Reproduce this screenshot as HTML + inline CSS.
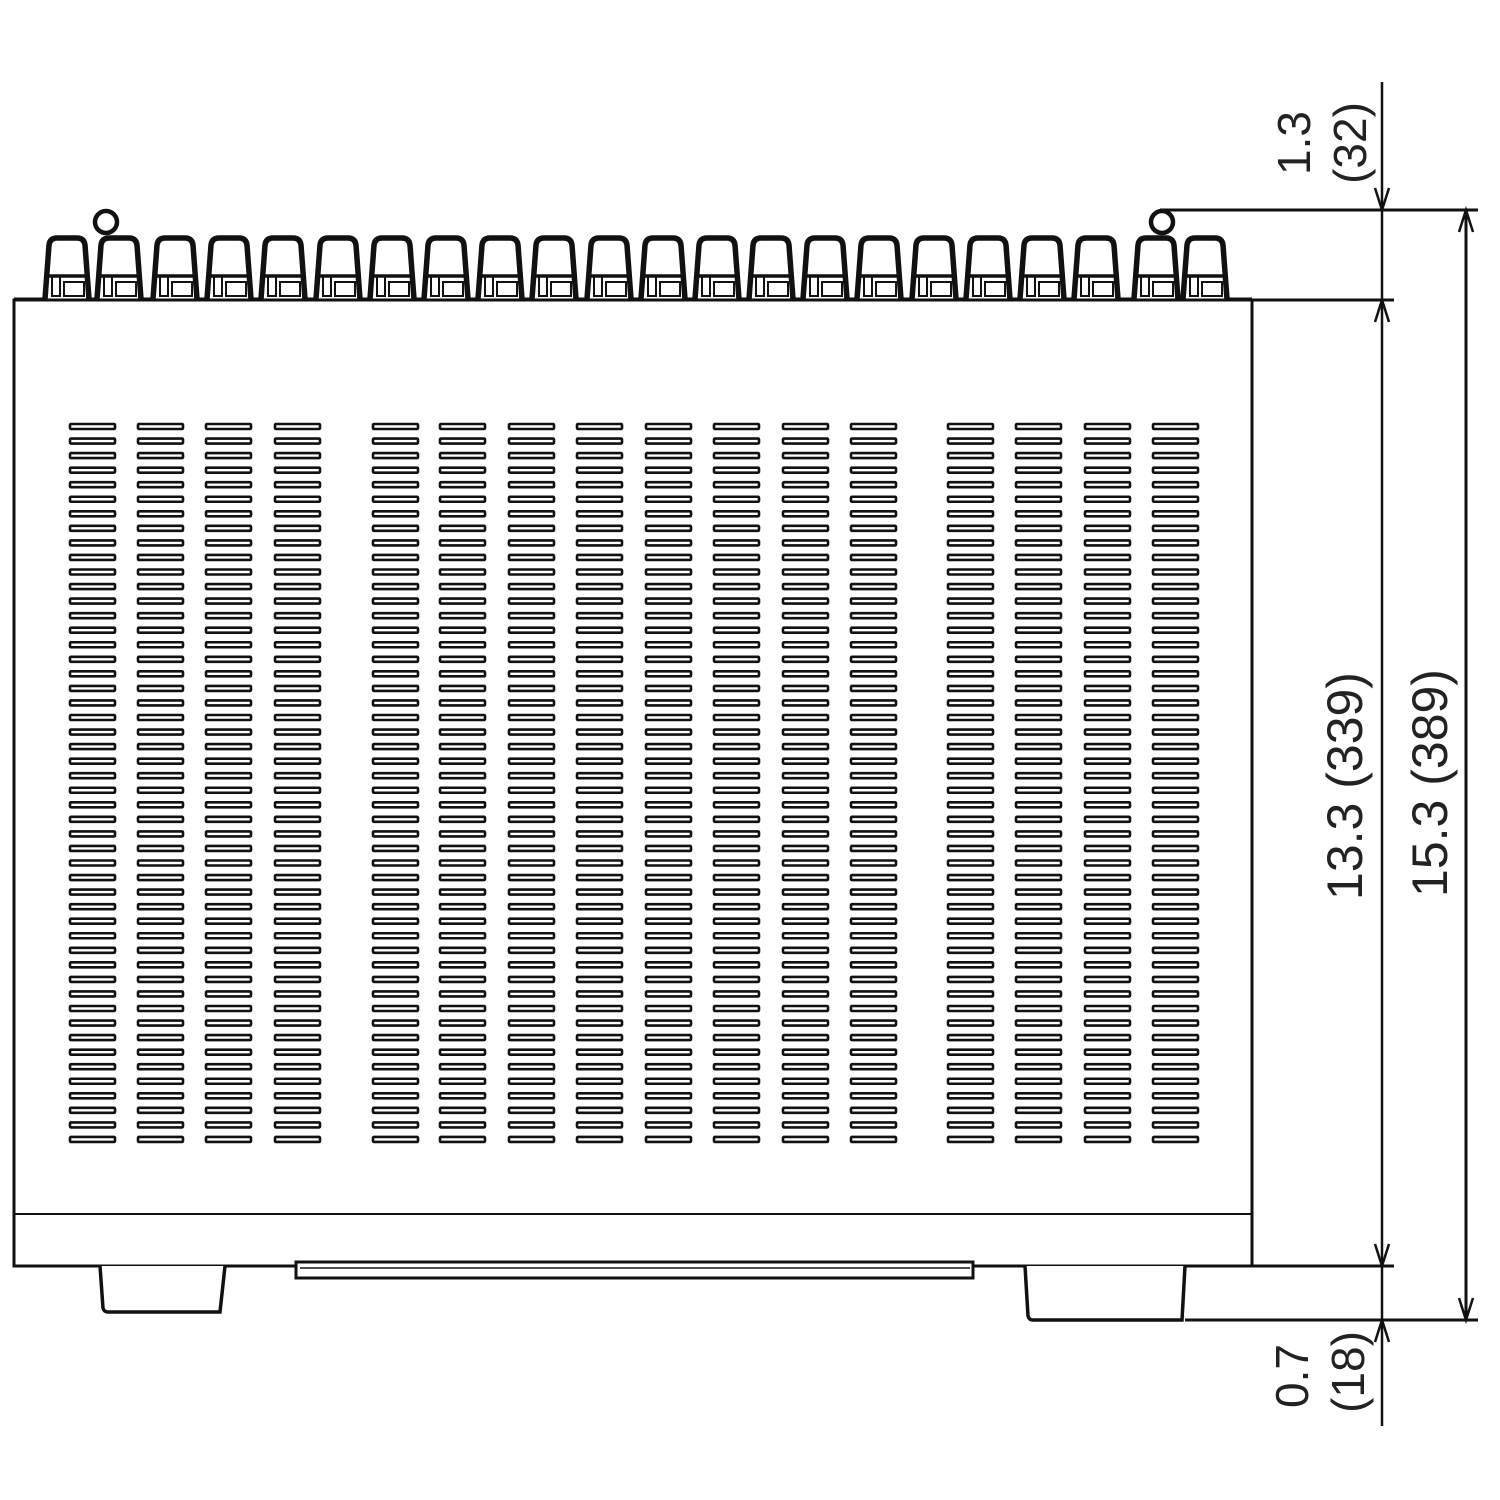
<!DOCTYPE html>
<html><head><meta charset="utf-8"><style>
html,body{margin:0;padding:0;background:#fff;}
svg{display:block}
text{font-family:"Liberation Sans",sans-serif;fill:#222;}
</style></head><body>
<svg width="1500" height="1500" viewBox="0 0 1500 1500" xmlns="http://www.w3.org/2000/svg">
<defs>
<g id="col" fill="none" stroke="#111" stroke-width="2.6">
<rect x="1" y="0" width="45" height="5" rx="1"/><rect x="1" y="14.55" width="45" height="5" rx="1"/><rect x="1" y="29.1" width="45" height="5" rx="1"/><rect x="1" y="43.65" width="45" height="5" rx="1"/><rect x="1" y="58.2" width="45" height="5" rx="1"/>
<rect x="1" y="72.75" width="45" height="5" rx="1"/><rect x="1" y="87.3" width="45" height="5" rx="1"/><rect x="1" y="101.85" width="45" height="5" rx="1"/><rect x="1" y="116.4" width="45" height="5" rx="1"/><rect x="1" y="130.95" width="45" height="5" rx="1"/>
<rect x="1" y="145.5" width="45" height="5" rx="1"/><rect x="1" y="160.05" width="45" height="5" rx="1"/><rect x="1" y="174.6" width="45" height="5" rx="1"/><rect x="1" y="189.15" width="45" height="5" rx="1"/><rect x="1" y="203.7" width="45" height="5" rx="1"/>
<rect x="1" y="218.25" width="45" height="5" rx="1"/><rect x="1" y="232.8" width="45" height="5" rx="1"/><rect x="1" y="247.35" width="45" height="5" rx="1"/><rect x="1" y="261.9" width="45" height="5" rx="1"/><rect x="1" y="276.45" width="45" height="5" rx="1"/>
<rect x="1" y="291" width="45" height="5" rx="1"/><rect x="1" y="305.55" width="45" height="5" rx="1"/><rect x="1" y="320.1" width="45" height="5" rx="1"/><rect x="1" y="334.65" width="45" height="5" rx="1"/><rect x="1" y="349.2" width="45" height="5" rx="1"/>
<rect x="1" y="363.75" width="45" height="5" rx="1"/><rect x="1" y="378.3" width="45" height="5" rx="1"/><rect x="1" y="392.85" width="45" height="5" rx="1"/><rect x="1" y="407.4" width="45" height="5" rx="1"/><rect x="1" y="421.95" width="45" height="5" rx="1"/>
<rect x="1" y="436.5" width="45" height="5" rx="1"/><rect x="1" y="451.05" width="45" height="5" rx="1"/><rect x="1" y="465.6" width="45" height="5" rx="1"/><rect x="1" y="480.15" width="45" height="5" rx="1"/><rect x="1" y="494.7" width="45" height="5" rx="1"/>
<rect x="1" y="509.25" width="45" height="5" rx="1"/><rect x="1" y="523.8" width="45" height="5" rx="1"/><rect x="1" y="538.35" width="45" height="5" rx="1"/><rect x="1" y="552.9" width="45" height="5" rx="1"/><rect x="1" y="567.45" width="45" height="5" rx="1"/>
<rect x="1" y="582" width="45" height="5" rx="1"/><rect x="1" y="596.55" width="45" height="5" rx="1"/><rect x="1" y="611.1" width="45" height="5" rx="1"/><rect x="1" y="625.65" width="45" height="5" rx="1"/><rect x="1" y="640.2" width="45" height="5" rx="1"/>
<rect x="1" y="654.75" width="45" height="5" rx="1"/><rect x="1" y="669.3" width="45" height="5" rx="1"/><rect x="1" y="683.85" width="45" height="5" rx="1"/><rect x="1" y="698.4" width="45" height="5" rx="1"/><rect x="1" y="712.95" width="45" height="5" rx="1"/>
</g>
<g id="term">
<path d="M1 63 L5 9 Q6 2 13 2 L33 2 Q40 2 41 9 L45 63" fill="#fff" stroke="#111" stroke-width="5.5"/>
<line x1="4" y1="40" x2="42" y2="40" stroke="#111" stroke-width="3.5"/>
<rect x="8" y="40" width="8" height="20" fill="none" stroke="#111" stroke-width="2"/>
<rect x="20" y="46" width="20" height="14" fill="none" stroke="#111" stroke-width="2"/>
</g>
</defs>
<line x1="14" y1="300" x2="1252" y2="300" stroke="#111" stroke-width="5"/>
<use href="#term" x="44" y="236"/><use href="#term" x="96" y="236"/><use href="#term" x="152" y="236"/>
<use href="#term" x="206" y="236"/><use href="#term" x="260" y="236"/><use href="#term" x="315" y="236"/>
<use href="#term" x="369" y="236"/><use href="#term" x="423" y="236"/><use href="#term" x="477" y="236"/>
<use href="#term" x="531" y="236"/><use href="#term" x="586" y="236"/><use href="#term" x="640" y="236"/>
<use href="#term" x="694" y="236"/><use href="#term" x="748" y="236"/><use href="#term" x="802" y="236"/>
<use href="#term" x="856" y="236"/><use href="#term" x="911" y="236"/><use href="#term" x="965" y="236"/>
<use href="#term" x="1019" y="236"/><use href="#term" x="1073" y="236"/><use href="#term" x="1133" y="236"/>
<use href="#term" x="1182" y="236"/>
<circle cx="106" cy="222" r="11" fill="#fff" stroke="#111" stroke-width="4.5"/>
<circle cx="1162" cy="222" r="11" fill="#fff" stroke="#111" stroke-width="4.5"/>
<rect x="14" y="300" width="1238" height="966" fill="#fff" stroke="#111" stroke-width="3"/>
<line x1="14" y1="1214" x2="1252" y2="1214" stroke="#111" stroke-width="2"/>
<use href="#col" x="69" y="424"/><use href="#col" x="137" y="424"/><use href="#col" x="205" y="424"/><use href="#col" x="274" y="424"/>
<use href="#col" x="372" y="424"/><use href="#col" x="439" y="424"/><use href="#col" x="508" y="424"/><use href="#col" x="576" y="424"/>
<use href="#col" x="645" y="424"/><use href="#col" x="713" y="424"/><use href="#col" x="782" y="424"/><use href="#col" x="850" y="424"/>
<use href="#col" x="947" y="424"/><use href="#col" x="1015" y="424"/><use href="#col" x="1084" y="424"/><use href="#col" x="1152" y="424"/>
<path d="M296 1262 L973 1262 L973 1278 L296 1278 Z" fill="#fff" stroke="#111" stroke-width="3"/>
<line x1="300" y1="1268" x2="970" y2="1268" stroke="#111" stroke-width="1.5"/>
<path d="M100 1266 L103 1308 Q104 1312 108 1312 L220 1312 L225 1266" fill="#fff" stroke="#111" stroke-width="3.5"/>
<path d="M1025 1266 L1028 1316 Q1029 1320 1033 1320 L1182 1320 L1185 1266" fill="#fff" stroke="#111" stroke-width="3.5"/>
<line x1="1185" y1="1320" x2="1478" y2="1320" stroke="#111" stroke-width="3"/>
<line x1="1252" y1="1266" x2="1394" y2="1266" stroke="#111" stroke-width="3"/>
<line x1="1160" y1="210" x2="1478" y2="210" stroke="#111" stroke-width="3"/>
<line x1="1252" y1="300" x2="1394" y2="300" stroke="#111" stroke-width="3"/>
<line x1="1382" y1="82" x2="1382" y2="1426" stroke="#111" stroke-width="2.5"/>
<line x1="1466" y1="210" x2="1466" y2="1320" stroke="#111" stroke-width="3"/>
<g fill="none" stroke="#111" stroke-width="2.5">
<path d="M1375 188 L1382 210 L1389 188"/>
<path d="M1375 322 L1382 300 L1389 322"/>
<path d="M1375 1244 L1382 1266 L1389 1244"/>
<path d="M1375 1342 L1382 1320 L1389 1342"/>
<path d="M1459 232 L1466 210 L1473 232"/>
<path d="M1459 1298 L1466 1320 L1473 1298"/>
</g>
<g font-size="46">
<text transform="translate(1310,143) rotate(-90)" text-anchor="middle">1.3</text>
<text transform="translate(1366,143) rotate(-90)" text-anchor="middle">(32)</text>
<text transform="translate(1362,786) rotate(-90)" text-anchor="middle" font-size="50">13.3 (339)</text>
<text transform="translate(1447,783) rotate(-90)" text-anchor="middle" font-size="50">15.3 (389)</text>
<text transform="translate(1308,1376) rotate(-90)" text-anchor="middle">0.7</text>
<text transform="translate(1364,1372) rotate(-90)" text-anchor="middle">(18)</text>
</g>
</svg>
</body></html>
